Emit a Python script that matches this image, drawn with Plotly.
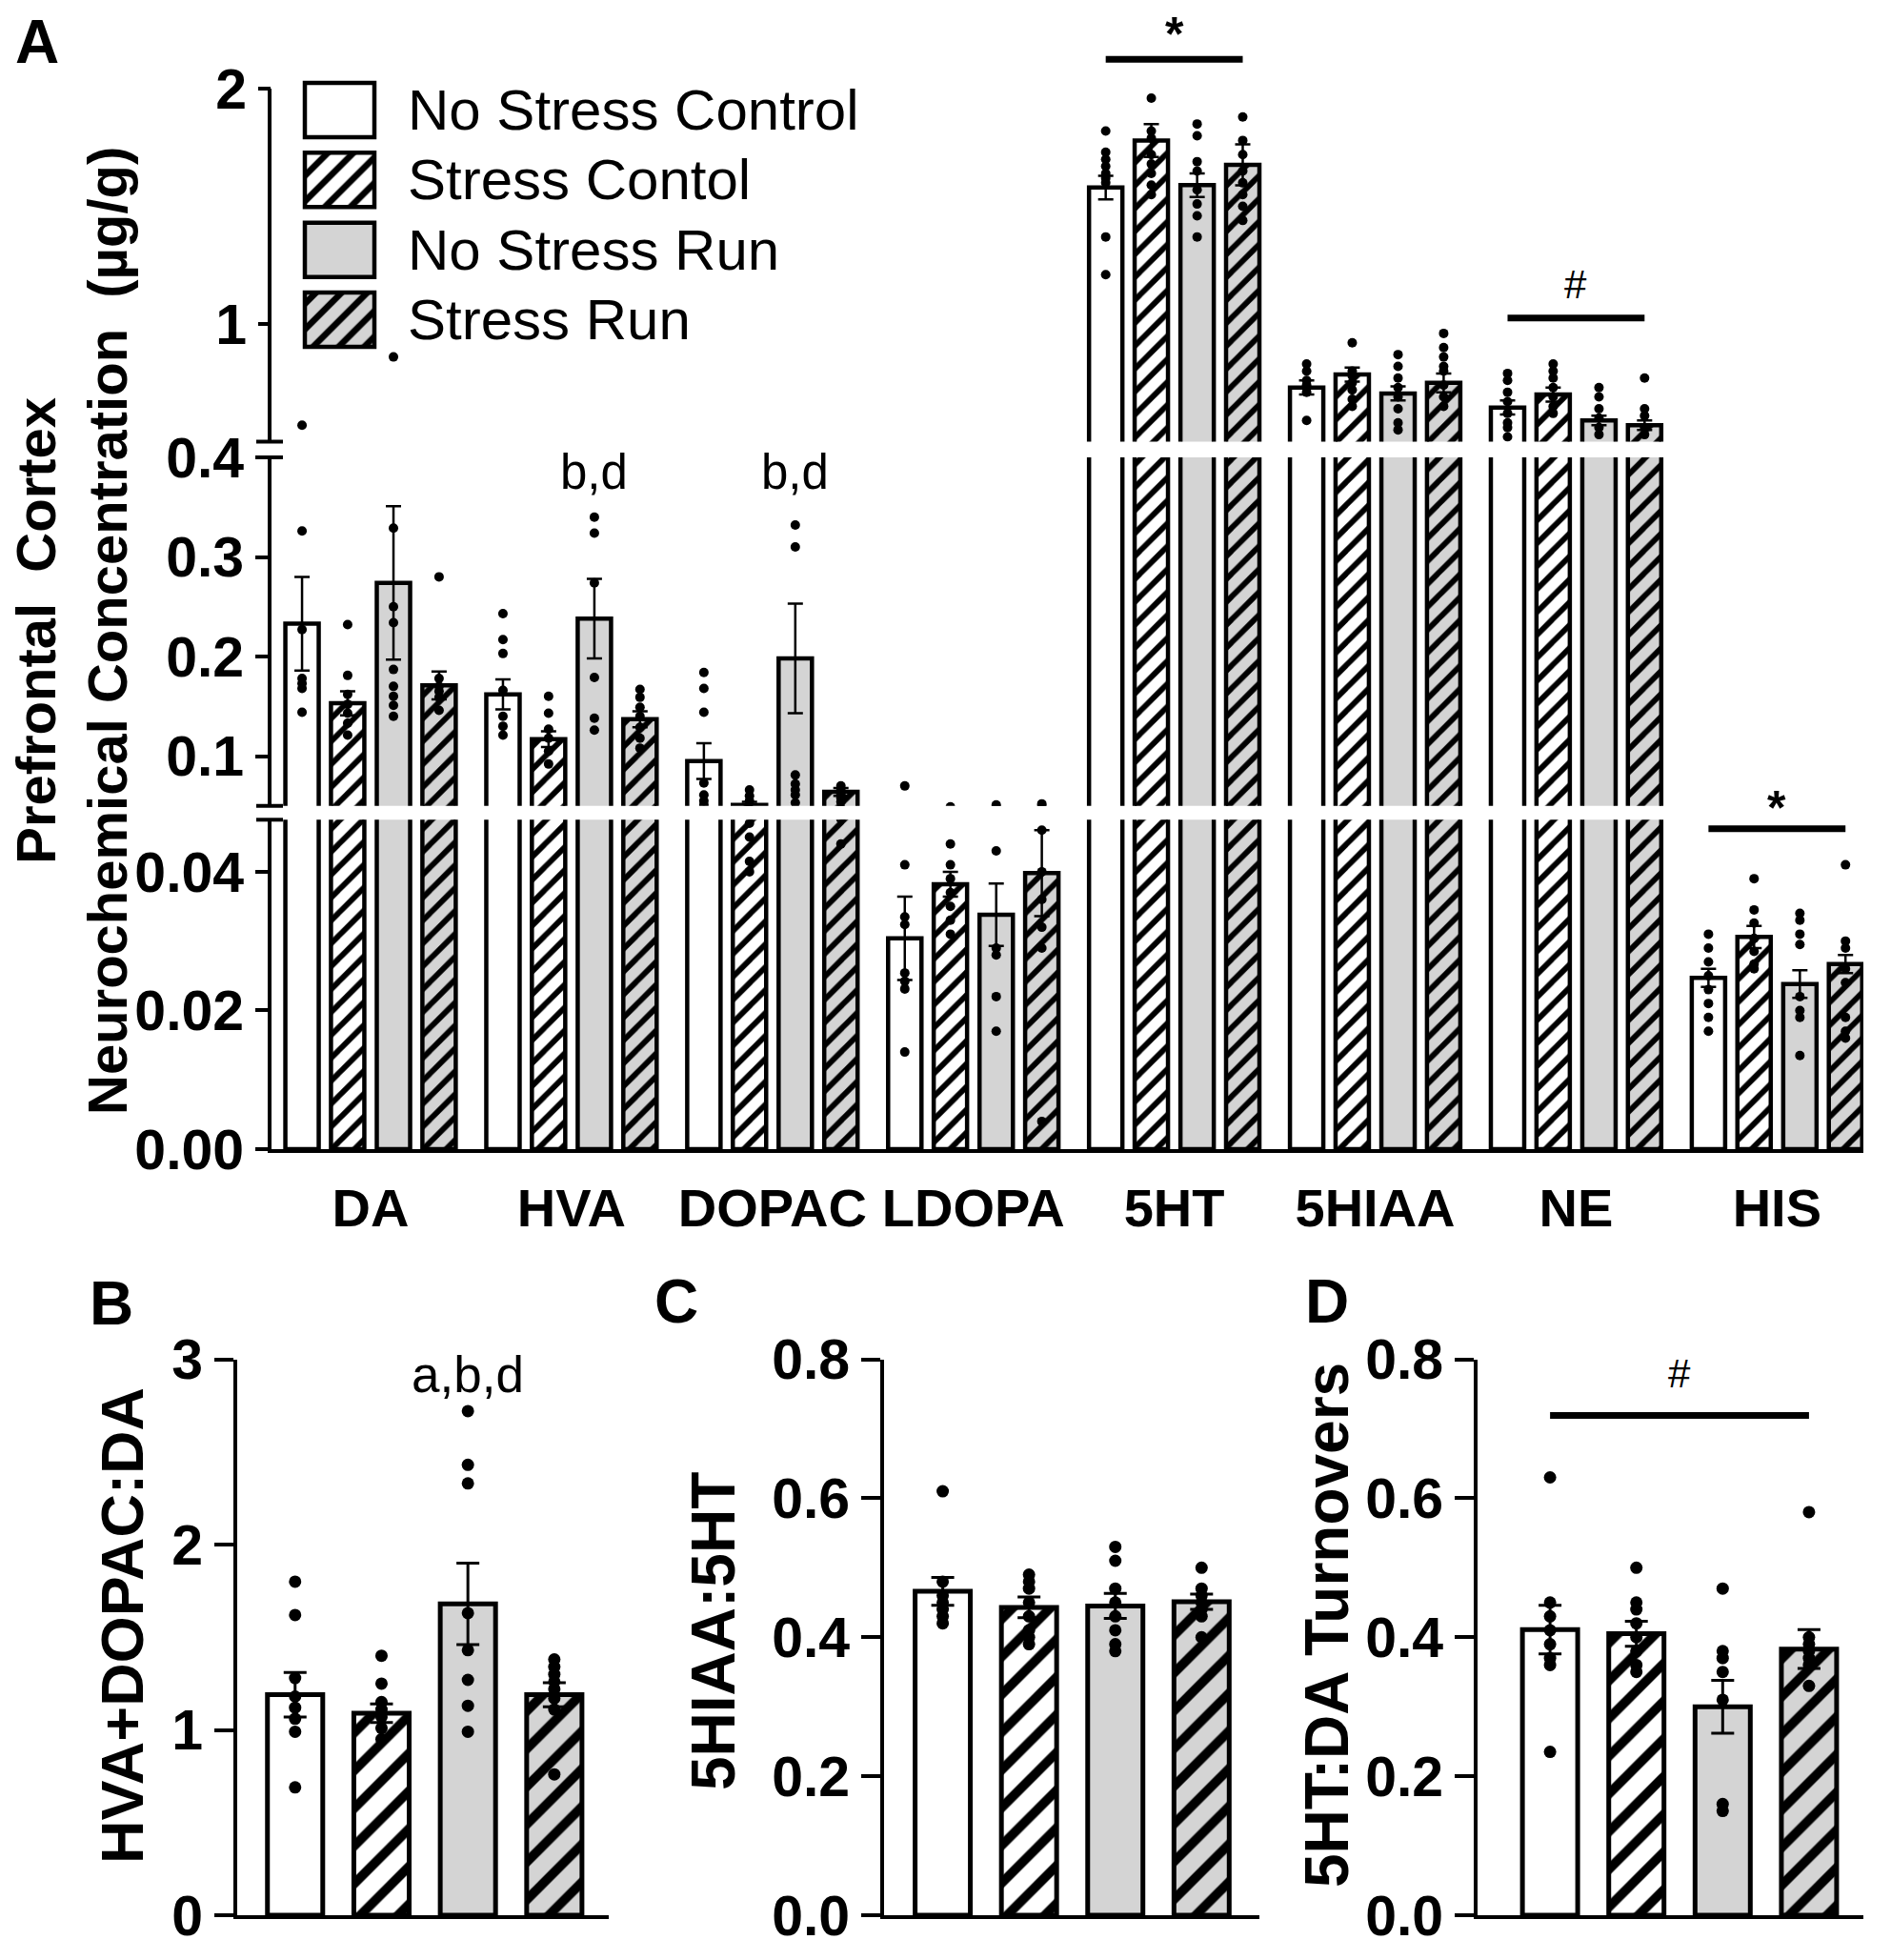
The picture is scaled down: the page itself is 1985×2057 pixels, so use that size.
import plotly.graph_objects as go

W, H = 1985, 2057

# ---------------- panel A : neurochemicals (ug/g) ----------------
chemicals = ["DA", "HVA", "DOPAC", "LDOPA", "5HT", "5HIAA", "NE", "HIS"]
groups = ["No Stress Control", "Stress Contol", "No Stress Run", "Stress Run"]

nsc_mean = [0.233, 0.162, 0.095, 0.0304, 1.58, 0.73, 0.645, 0.0247]
sc_mean = [0.153, 0.117, 0.051, 0.0382, 1.78, 0.785, 0.70, 0.0306]
nsr_mean = [0.274, 0.238, 0.198, 0.0338, 1.59, 0.705, 0.59, 0.0238]
sr_mean = [0.171, 0.137, 0.064, 0.0398, 1.676, 0.75, 0.57, 0.0267]

nsc_sem = [0.047, 0.015, 0.018, 0.006, 0.05, 0.03, 0.03, 0.0013]
sc_sem = [0.012, 0.008, 0.003, 0.0018, 0.07, 0.03, 0.03, 0.0016]
nsr_sem = [0.077, 0.04, 0.055, 0.0045, 0.05, 0.03, 0.02, 0.002]
sr_sem = [0.014, 0.008, 0.004, 0.0062, 0.087, 0.04, 0.02, 0.0013]

nsc_pts = [
    [0.57, 0.326, 0.227, 0.178, 0.173, 0.168, 0.144],
    [0.243, 0.217, 0.203, 0.166, 0.14, 0.13, 0.121],
    [0.184, 0.168, 0.144, 0.073, 0.061, 0.055, 0.051],
    [0.070, 0.041, 0.0335, 0.0324, 0.0254, 0.0242, 0.0231, 0.014],
    [1.82, 1.73, 1.70, 1.67, 1.64, 1.62, 1.60, 1.37, 1.21],
    [0.83, 0.80, 0.76, 0.74, 0.71, 0.59],
    [0.79, 0.76, 0.71, 0.67, 0.62, 0.58, 0.56, 0.52],
    [0.031, 0.029, 0.027, 0.025, 0.023, 0.021, 0.019, 0.017],
]
sc_pts = [
    [0.232, 0.181, 0.162, 0.152, 0.143, 0.133, 0.121],
    [0.16, 0.143, 0.127, 0.118, 0.105, 0.092],
    [0.066, 0.060, 0.055, 0.047, 0.045, 0.0415, 0.040],
    [0.049, 0.044, 0.041, 0.039, 0.037, 0.035, 0.033, 0.031],
    [1.96, 1.82, 1.79, 1.72, 1.68, 1.64, 1.59, 1.55],
    [0.92, 0.80, 0.78, 0.75, 0.72, 0.68, 0.65],
    [0.83, 0.80, 0.77, 0.73, 0.69, 0.65, 0.62],
    [0.039, 0.0345, 0.0326, 0.0304, 0.0285, 0.0267, 0.026],
]
nsr_pts = [
    [0.86, 0.329, 0.25, 0.234, 0.187, 0.17, 0.16, 0.151, 0.14],
    [0.34, 0.324, 0.274, 0.179, 0.138, 0.126],
    [0.332, 0.31, 0.081, 0.072, 0.066, 0.061, 0.053],
    [0.051, 0.049, 0.043, 0.029, 0.028, 0.022, 0.017],
    [1.85, 1.80, 1.69, 1.65, 1.57, 1.51, 1.46, 1.37],
    [0.87, 0.82, 0.77, 0.73, 0.69, 0.64, 0.58, 0.55],
    [0.73, 0.69, 0.64, 0.60, 0.56, 0.53],
    [0.034, 0.033, 0.031, 0.0295, 0.022, 0.020, 0.019, 0.0135],
]
sr_pts = [
    [0.28, 0.178, 0.17, 0.165, 0.159, 0.146],
    [0.167, 0.159, 0.149, 0.14, 0.129, 0.118, 0.108],
    [0.070, 0.066, 0.062, 0.058, 0.054, 0.0476, 0.044],
    [0.052, 0.050, 0.046, 0.040, 0.036, 0.032, 0.029, 0.004],
    [1.88, 1.78, 1.72, 1.65, 1.60, 1.55, 1.50, 1.44],
    [0.96, 0.90, 0.86, 0.82, 0.80, 0.74, 0.69, 0.65],
    [0.77, 0.64, 0.61, 0.56, 0.53],
    [0.041, 0.030, 0.029, 0.026, 0.024, 0.019, 0.017, 0.016],
]

# ---------------- panels B, C, D : ratios ----------------
b_mean = [1.19, 1.09, 1.68, 1.19]
b_sem = [0.12, 0.05, 0.22, 0.065]
b_pts = [
    [1.80, 1.62, 1.28, 1.18, 1.12, 1.06, 0.99, 0.69],
    [1.40, 1.25, 1.15, 1.11, 1.07, 1.01, 0.95],
    [2.72, 2.43, 2.33, 1.63, 1.43, 1.27, 1.13, 0.99],
    [1.38, 1.34, 1.30, 1.26, 1.22, 1.17, 1.11, 0.76],
]
c_mean = [0.466, 0.443, 0.445, 0.451]
c_sem = [0.02, 0.015, 0.018, 0.011]
c_pts = [
    [0.61, 0.48, 0.46, 0.45, 0.44, 0.43, 0.42],
    [0.49, 0.48, 0.47, 0.45, 0.43, 0.41, 0.40, 0.39],
    [0.53, 0.51, 0.47, 0.45, 0.43, 0.41, 0.39, 0.38],
    [0.50, 0.47, 0.46, 0.45, 0.44, 0.43, 0.40],
]
d_mean = [0.411, 0.405, 0.30, 0.383]
d_sem = [0.035, 0.018, 0.038, 0.028]
d_pts = [
    [0.63, 0.45, 0.43, 0.41, 0.39, 0.37, 0.36, 0.235],
    [0.50, 0.45, 0.44, 0.42, 0.40, 0.38, 0.36, 0.35],
    [0.47, 0.38, 0.37, 0.35, 0.31, 0.16, 0.15],
    [0.58, 0.40, 0.39, 0.38, 0.37, 0.36, 0.33],
]

fills = ["white", "white", "#d4d4d4", "#d4d4d4"]
hatched = [False, True, False, True]


def px_x(v):
    return v / W


def px_y(v):
    return 1 - v / H


def bar_marker(g, lw, hatch):
    m = dict(color=fills[g], line=dict(color="black", width=lw))
    if hatched[g]:
        m["pattern"] = dict(shape="/", fgcolor="black", bgcolor=fills[g], fgopacity=1,
                            size=hatch, solidity=0.35, fillmode="overlay")
    return m


fig = go.Figure()

# panel A, drawn three times (one per broken-axis segment)
a_means = [nsc_mean, sc_mean, nsr_mean, sr_mean]
a_sems = [nsc_sem, sc_sem, nsr_sem, sr_sem]
a_pts = [nsc_pts, sc_pts, nsr_pts, sr_pts]
offs = [-0.341, -0.114, 0.114, 0.341]
segments = [("x", "y"), ("x2", "y2"), ("x3", "y3")]

for g in range(4):
    xs = [i + offs[g] for i in range(len(chemicals))]
    dx = [xs[i] for i in range(len(chemicals)) for _ in a_pts[g][i]]
    dy = [v for i in range(len(chemicals)) for v in a_pts[g][i]]
    for xa, ya in segments:
        fig.add_trace(go.Bar(
            x=xs, y=a_means[g], width=0.166, xaxis=xa, yaxis=ya, name=groups[g],
            marker=bar_marker(g, 4.5, 17),
            error_y=dict(type="data", array=a_sems[g], color="black", thickness=2.5, width=8),
        ))
        fig.add_trace(go.Scatter(x=dx, y=dy, mode="markers", xaxis=xa, yaxis=ya,
                                 marker=dict(color="black", size=10)))

# legend boxes as a tiny horizontal-bar subplot
lg_l, lg_r, lg_t, lg_b, lg_h = 320, 393, 87, 364, 57
lg_pitch = (lg_b - lg_t - lg_h) / 3
pad = 5
for g in range(4):
    fig.add_trace(go.Bar(x=[1], y=[g], base=0, orientation="h", width=lg_h / lg_pitch,
                         xaxis="x4", yaxis="y4", marker=bar_marker(g, 4.5, 19)))

# panels B, C, D
small = [("x5", "y5", b_mean, b_sem, b_pts),
         ("x6", "y6", c_mean, c_sem, c_pts),
         ("x7", "y7", d_mean, d_sem, d_pts)]
for xa, ya, mean, sem, pts in small:
    for g in range(4):
        fig.add_trace(go.Bar(
            x=[g], y=[mean[g]], width=0.64, xaxis=xa, yaxis=ya, name=groups[g],
            marker=bar_marker(g, 5, 28),
            error_y=dict(type="data", array=[sem[g]], color="black", thickness=3, width=12),
        ))
        fig.add_trace(go.Scatter(x=[g] * len(pts[g]), y=pts[g], mode="markers",
                                 xaxis=xa, yaxis=ya, marker=dict(color="black", size=13)))

tick_font = dict(size=59, weight="bold", color="black")
base_y = dict(showgrid=False, zeroline=False, ticks="outside", tickwidth=4, tickcolor="black",
              showline=True, linewidth=4, linecolor="black", tickfont=tick_font, automargin=False)
hidden = dict(visible=False)

a_dom = [px_x(285), px_x(1956)]
a_rng = [-0.493, 7.43]

fig.update_layout(
    width=W, height=H, margin=dict(l=0, r=0, t=0, b=0, pad=0, autoexpand=False),
    paper_bgcolor="white", plot_bgcolor="white",
    barmode="overlay", showlegend=False,
    font=dict(family="Liberation Sans", color="black"),
    # panel A bottom segment
    xaxis=dict(domain=a_dom, range=a_rng, anchor="y", showgrid=False, zeroline=False,
               showline=True, linewidth=4, linecolor="black", ticks="", automargin=False,
               tickvals=list(range(len(chemicals))), ticktext=chemicals,
               tickfont=dict(size=56, weight="bold", color="black"), ticklabelstandoff=10),
    yaxis=dict(base_y, domain=[px_y(1206), px_y(860.3)], range=[0, 0.0475], anchor="x",
               tickvals=[0, 0.02, 0.04], tickformat=".2f", ticklen=13),
    # middle segment
    xaxis2=dict(hidden, domain=a_dom, range=a_rng, anchor="y2"),
    yaxis2=dict(base_y, domain=[px_y(845.75), px_y(480)], range=[0.05, 0.4], anchor="x2",
                tickvals=[0.1, 0.2, 0.3, 0.4], tickformat=".1f", ticklen=13),
    # top segment
    xaxis3=dict(hidden, domain=a_dom, range=a_rng, anchor="y3"),
    yaxis3=dict(base_y, domain=[px_y(463.5), px_y(19)], range=[0.5, 2.3], anchor="x3",
                showline=False, tickvals=[1, 2], ticklen=13),
    # legend
    xaxis4=dict(hidden, domain=[px_x(lg_l - pad), px_x(lg_r + pad)], anchor="y4",
                range=[-pad / (lg_r - lg_l), 1 + pad / (lg_r - lg_l)]),
    yaxis4=dict(hidden, domain=[px_y(lg_b + pad), px_y(lg_t - pad)], anchor="x4",
                range=[3 + (lg_h / 2 + pad) / lg_pitch, -(lg_h / 2 + pad) / lg_pitch]),
    # B
    xaxis5=dict(domain=[px_x(249), px_x(639)], range=[-0.67, 3.63], anchor="y5",
                showgrid=False, zeroline=False, showline=True, linewidth=4, automargin=False,
                linecolor="black", showticklabels=False, ticks=""),
    yaxis5=dict(base_y, domain=[px_y(2010), px_y(1426.5)], range=[0, 3], anchor="x5",
                tickvals=[0, 1, 2, 3], ticklen=20),
    # C
    xaxis6=dict(domain=[px_x(928), px_x(1322)], range=[-0.68, 3.67], anchor="y6",
                showgrid=False, zeroline=False, showline=True, linewidth=4, automargin=False,
                linecolor="black", showticklabels=False, ticks=""),
    yaxis6=dict(base_y, domain=[px_y(2010), px_y(1426.5)], range=[0, 0.8], anchor="x6",
                tickvals=[0, 0.2, 0.4, 0.6, 0.8], tickformat=".1f", ticklen=20),
    # D
    xaxis7=dict(domain=[px_x(1551), px_x(1956)], range=[-0.84, 3.63], anchor="y7",
                showgrid=False, zeroline=False, showline=True, linewidth=4, automargin=False,
                linecolor="black", showticklabels=False, ticks=""),
    yaxis7=dict(base_y, domain=[px_y(2010), px_y(1426.5)], range=[0, 0.8], anchor="x7",
                tickvals=[0, 0.2, 0.4, 0.6, 0.8], tickformat=".1f", ticklen=20),
)

# axis line of the top segment stops at 2, plus the "=" break marks
ax_x = px_x(283)
fig.add_shape(type="line", xref="paper", yref="y3", x0=ax_x, x1=ax_x, y0=0.5, y1=2.0,
              line=dict(color="black", width=4))
for yb in [860.3, 845.75, 480, 463.5]:
    fig.add_shape(type="line", xref="paper", yref="paper", x0=px_x(269), x1=px_x(297),
                  y0=px_y(yb), y1=px_y(yb), line=dict(color="black", width=4))

# significance lines
sig_lines = [("x3", "y3", 4, 2.125), ("x3", "y3", 6, 1.025), ("x", "y", 7, 0.0462)]
for xa, ya, c, yv in sig_lines:
    fig.add_shape(type="line", xref=xa, yref=ya, x0=c + offs[0], x1=c + offs[3], y0=yv, y1=yv,
                  line=dict(color="black", width=7))
fig.add_shape(type="line", xref="x7", yref="y7", x0=0, x1=3, y0=0.719, y1=0.719,
              line=dict(color="black", width=7))

notes = [
    dict(x=4, y=2.23, xref="x3", yref="y3", text="*", font=dict(size=50, weight="bold")),
    dict(x=6, y=1.17, xref="x3", yref="y3", text="#", font=dict(size=42)),
    dict(x=7, y=0.0462, xref="x", yref="y", text="*", font=dict(size=50, weight="bold"), yshift=22),
    dict(x=1 + offs[2], y=0.385, xref="x2", yref="y2", text="b,d", font=dict(size=51)),
    dict(x=2 + offs[2], y=0.385, xref="x2", yref="y2", text="b,d", font=dict(size=51)),
    dict(x=2, y=2.92, xref="x5", yref="y5", text="a,b,d", font=dict(size=53)),
    dict(x=1.5, y=0.78, xref="x7", yref="y7", text="#", font=dict(size=42)),
]
for n in notes:
    fig.add_annotation(showarrow=False, xanchor="center", yanchor="middle", **n)

# legend labels
for g in range(4):
    fig.add_annotation(x=px_x(426), y=px_y(lg_t + lg_h / 2 + g * lg_pitch), xref="paper", yref="paper",
                       text=groups[g], showarrow=False, xanchor="left", yanchor="middle",
                       font=dict(size=60))

# panel letters
for letter, lx, ly in [("A", 39, 44), ("B", 117, 1368), ("C", 710, 1366), ("D", 1393, 1366)]:
    fig.add_annotation(x=px_x(lx), y=px_y(ly), xref="paper", yref="paper", text=letter,
                       showarrow=False, xanchor="center", yanchor="middle",
                       font=dict(size=64, weight="bold"))

# y titles
titles = [
    ("Prefrontal\u00a0 Cortex<br>Neurochemical Concentration\u00a0 (µg/g)", 75, 662, 58),
    ("HVA+DOPAC:DA", 128, 1706, 63),
    ("5HIAA:5HT", 749, 1712, 64),
    ("5HT:DA Turnovers", 1393, 1706, 64),
]
for txt, tx, ty, fs in titles:
    fig.add_annotation(x=px_x(tx), y=px_y(ty), xref="paper", yref="paper", text=txt,
                       textangle=-90, showarrow=False, xanchor="center", yanchor="middle",
                       font=dict(size=fs, weight="bold"))

fig.write_html("out.html", config={"displayModeBar": False},
               post_script="document.body.style.margin = '0';")
